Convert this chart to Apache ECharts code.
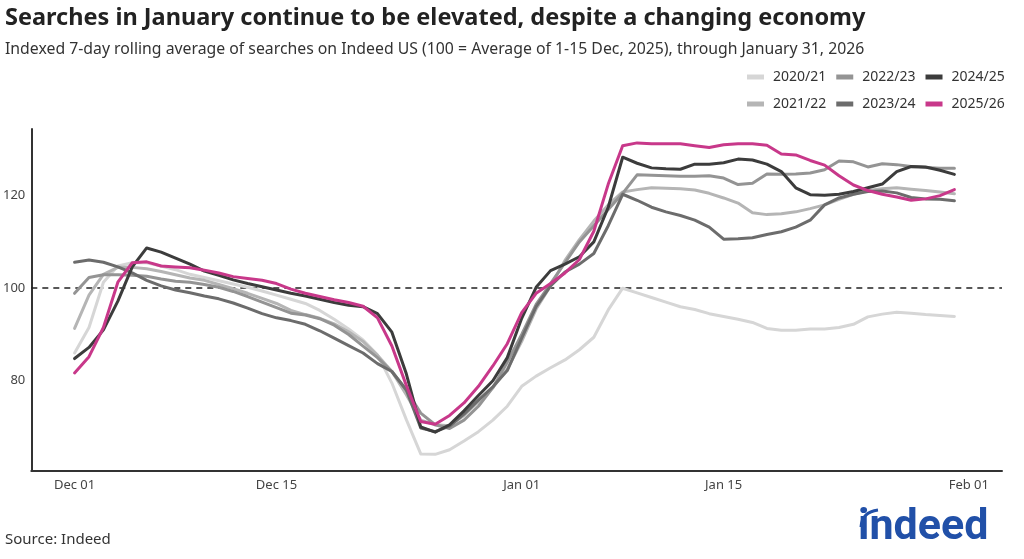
<!DOCTYPE html>
<html>
<head>
<meta charset="utf-8">
<script src="https://cdn.jsdelivr.net/npm/echarts@6/dist/echarts.min.js"></script>
<style>
html,body{margin:0;padding:0;background:#fff;}
#chart{width:1024px;height:559px;}
</style>
</head>
<body>
<div id="chart"></div>
<script>
// Day offsets: 0 = Dec 01, 61 = Jan 31
const tickDays = [0, 14, 31, 45, 62];
const tickLabels = ['Dec 01', 'Dec 15', 'Jan 01', 'Jan 15', 'Feb 01'];
const yTicks = [80, 100, 120];
const seriesNames = ['2020/21', '2021/22', '2022/23', '2023/24', '2024/25', '2025/26'];

const s2020 = [86,91.5,101.3,104.8,105.5,105.5,104.8,104,103,102.3,101.6,100.9,100.2,99.4,98.5,97.6,96.7,95.2,93.3,91.2,88.8,85.6,79.5,71.6,64.2,64.1,65.1,67,69,71.5,74.5,78.8,81,82.8,84.5,86.7,89.4,95.3,100,99,98,97,96,95.4,94.5,93.9,93.3,92.6,91.3,90.9,90.9,91.2,91.2,91.5,92.2,93.8,94.4,94.8,94.6,94.3,94.1,93.9];
const s2021 = [91.3,98.5,103,104.5,104.5,104.2,103.6,102.9,102.2,101.7,100.8,99.9,98.9,97.8,96.7,95.2,94.3,93.5,92.3,90.6,88.5,85.5,82,77,71.5,70.5,70.3,72.5,75.5,78.5,82.5,88.5,95.5,100.5,106,110.5,114.5,118,120.8,121.3,121.7,121.6,121.5,121.2,120.5,119.5,118.4,116.3,115.9,116.1,116.5,117.2,118,119.2,120.3,121.1,121.5,121.7,121.4,121.1,120.8,120.4];
const s2022 = [98.9,102.3,102.9,102.9,102.8,102.6,102,101.5,101.3,100.8,100.2,99.3,98.2,97,95.8,94.6,94.2,93.4,92,90,87.5,85,82,78,73,70.5,69.7,71.5,74.5,78.5,84,90,96.5,101,105.5,110,113.5,117,120.5,124.5,124.4,124.3,124.2,124.2,124.3,123.8,122.4,122.7,124.7,124.6,124.7,124.9,125.6,127.5,127.3,126.2,126.9,126.7,126.3,126.1,125.9,125.9];
const s2023 = [105.6,106.1,105.6,104.6,103.3,101.7,100.5,99.6,99,98.3,97.7,96.8,95.7,94.5,93.6,93,92.2,90.8,89.2,87.6,86,83.7,82,78,69.8,69,70.2,72.8,75.8,78.7,82.2,89.2,96,100.5,103.5,105.2,107.5,113.5,120.3,119,117.5,116.5,115.7,114.7,113.2,110.6,110.7,110.9,111.6,112.2,113.2,114.7,118,119.5,120.3,120.9,121,120.6,119.6,119.3,119.2,118.9];
const s2024 = [84.8,87.2,91,97.2,104.6,108.7,107.8,106.5,105.2,103.7,102.8,101.8,101,100.3,99.6,98.9,98.3,97.6,96.9,96.3,96,94.5,90.5,81.5,70,68.9,70.5,73.5,76.8,80,85,93.5,100.2,103.8,105.2,106.8,110,117.5,128.3,127,126,125.8,125.7,126.8,126.8,127.1,127.9,127.7,126.8,125.2,121.7,120.2,120.1,120.3,120.9,121.7,122.5,125.2,126.3,126.2,125.5,124.6];
const s2025 = [81.7,85.2,91.5,101.3,105.5,105.7,104.8,104.6,104.4,103.9,103.3,102.5,102.1,101.7,101,99.8,98.9,98.2,97.5,96.9,96.1,93.6,87.5,79,71.2,70.6,72.5,75.2,78.8,83.2,88,94.7,98.9,101,103.3,106.2,112.3,122.5,130.8,131.4,131.2,131.2,131.2,130.8,130.4,131,131.2,131.2,130.9,129,128.8,127.6,126.6,124.3,122.3,121.1,120.3,119.7,119,119.3,120,121.3];

const seriesValues = [s2020, s2021, s2022, s2023, s2024, s2025];
const colors = ['#d6d6d6', '#b5b5b5', '#949494', '#6c6c6c', '#3c3c3c', '#c8388a'];

const chart = echarts.init(document.getElementById('chart'), null, {renderer: 'canvas'});

const series = seriesNames.map((name, i) => {
  const s = {
    name: name,
    type: 'line',
    data: seriesValues[i].map((v, d) => [d, v]),
    symbol: 'none',
    lineStyle: {width: 3, color: colors[i], join: 'round', cap: 'round'},
    itemStyle: {color: colors[i]},
    z: 2 + i,
    silent: true
  };
  if (i === 0) {
    s.markLine = {
      silent: true,
      symbol: ['none', 'none'],
      label: {show: false},
      lineStyle: {type: [6, 5], color: '#222', width: 1.5},
      data: [{yAxis: 100}],
      z: 1
    };
  }
  return s;
});

const legendCommon = {
  icon: 'rect',
  itemWidth: 17,
  itemHeight: 5,
  itemGap: 10,
  orient: 'horizontal',
  textStyle: {fontFamily: 'Noto Sans', fontSize: 14, color: '#333', padding: [0, 0, 0, 4]},
  selectedMode: false
};

chart.setOption({
  animation: false,
  backgroundColor: '#fff',
  textStyle: {fontFamily: 'Noto Sans'},
  title: [
    {text: 'Searches in January continue to be elevated, despite a changing economy', left: 0, top: 1,
     textStyle: {fontFamily: 'Noto Sans', fontWeight: 'bold', fontSize: 23.5, color: '#222'}},
    {text: 'Indexed 7-day rolling average of searches on Indeed US (100 = Average of 1-15 Dec, 2025), through January 31, 2026', left: 0, top: 36,
     textStyle: {fontFamily: 'Noto Sans', fontWeight: 'normal', fontSize: 15.8, color: '#333'}},
    {text: 'Source: Indeed', left: 0, top: 527,
     textStyle: {fontFamily: 'Noto Sans', fontWeight: 'normal', fontSize: 15, color: '#333'}}
  ],
  legend: [
    Object.assign({data: ['2020/21', '2022/23', '2024/25'], left: 742, top: 65}, legendCommon),
    Object.assign({data: ['2021/22', '2023/24', '2025/26'], left: 742, top: 92}, legendCommon)
  ],
  grid: {left: 30, right: 22, top: 129, bottom: 88},
  xAxis: {
    type: 'value',
    min: -3,
    max: 64.3,
    axisLine: {show: true, onZero: false, lineStyle: {color: '#333', width: 2}},
    axisTick: {show: false},
    splitLine: {show: false},
    axisLabel: {
      customValues: tickDays,
      formatter: function (v) { const k = tickDays.indexOf(v); return k >= 0 ? tickLabels[k] : ''; },
      fontFamily: 'Noto Sans', fontSize: 13, color: '#444', margin: 8
    }
  },
  yAxis: {
    type: 'value',
    min: 60.5,
    max: 134.4,
    axisLine: {show: true, onZero: false, lineStyle: {color: '#333', width: 2}},
    axisTick: {show: false},
    splitLine: {show: false},
    axisLabel: {
      customValues: yTicks,
      fontFamily: 'Noto Sans', fontSize: 13, color: '#444', margin: 6
    }
  },
  graphic: [
    {
      type: 'text', left: 858, top: 507, z: 10,
      style: {text: 'indeed', font: 'bold 43px Roboto', fill: '#2150a8'}
    },
    {
      type: 'bezierCurve', z: 10,
      shape: {x1: 861, y1: 527, cpx1: 862, cpy1: 512, x2: 878, y2: 510},
      style: {stroke: '#2150a8', lineWidth: 3, fill: null}
    }
  ],
  series: series
});
</script>
</body>
</html>
